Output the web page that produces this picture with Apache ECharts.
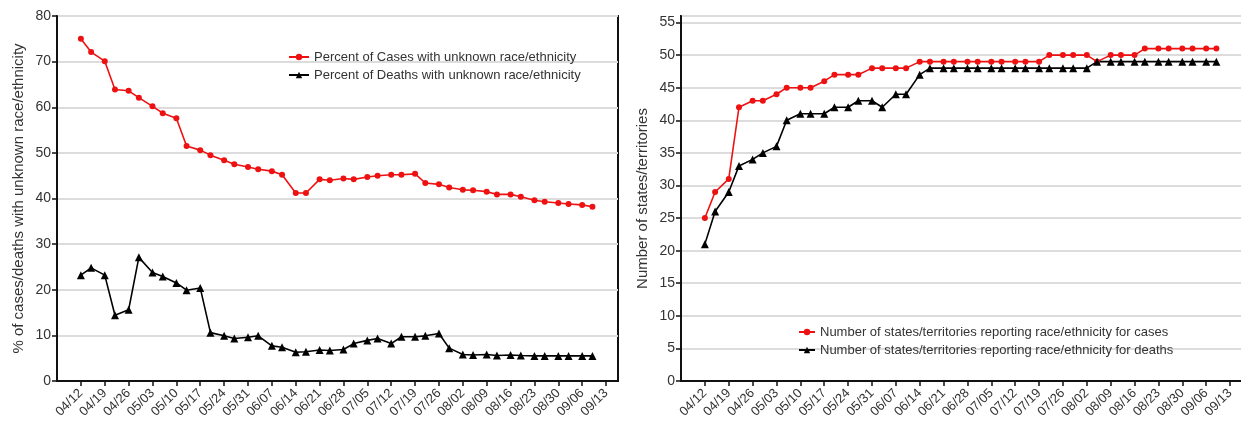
<!DOCTYPE html>
<html>
<head>
<meta charset="utf-8">
<script src="https://cdn.jsdelivr.net/npm/echarts@6/dist/echarts.min.js"></script>
<style>
  html, body {margin: 0; padding: 0; background: #fff;}
  #chart {width: 1241px; height: 421px;}
</style>
</head>
<body>
<div id="chart"></div>
<script>
// report dates (twice a week, Sun + Wed)
const reportDates = [
  '2020-04-12', '2020-04-15', '2020-04-19', '2020-04-22', '2020-04-26', '2020-04-29',
  '2020-05-03', '2020-05-06', '2020-05-10', '2020-05-13', '2020-05-17', '2020-05-20',
  '2020-05-24', '2020-05-27', '2020-05-31', '2020-06-03', '2020-06-07', '2020-06-10',
  '2020-06-14', '2020-06-17', '2020-06-21', '2020-06-24', '2020-06-28', '2020-07-01',
  '2020-07-05', '2020-07-08', '2020-07-12', '2020-07-15', '2020-07-19', '2020-07-22',
  '2020-07-26', '2020-07-29', '2020-08-02', '2020-08-05', '2020-08-09', '2020-08-12',
  '2020-08-16', '2020-08-19', '2020-08-23', '2020-08-26', '2020-08-30', '2020-09-02',
  '2020-09-06', '2020-09-09'
];

const casesUnknownPct = [
  75.0, 72.1, 70.1, 63.9, 63.6, 62.1, 60.2, 58.7, 57.6, 51.5,
  50.6, 49.5, 48.4, 47.5, 46.9, 46.4, 46.0, 45.2, 41.2, 41.2,
  44.2, 44.0, 44.4, 44.2, 44.7, 45.0, 45.2, 45.2, 45.4, 43.4,
  43.1, 42.4, 41.9, 41.8, 41.5, 40.9, 40.9, 40.4, 39.6, 39.3,
  39.0, 38.8, 38.6, 38.2
];
const deathsUnknownPct = [
  23.2, 24.8, 23.2, 14.4, 15.6, 27.1, 23.8, 22.9, 21.5, 19.9,
  20.4, 10.6, 9.9, 9.3, 9.6, 9.9, 7.7, 7.4, 6.3, 6.4,
  6.8, 6.7, 6.9, 8.2, 8.9, 9.3, 8.2, 9.7, 9.7, 9.9,
  10.4, 7.2, 5.8, 5.7, 5.8, 5.6, 5.7, 5.6, 5.5, 5.5,
  5.5, 5.5, 5.5, 5.5
];

const statesCases = [
  25, 29, 31, 42, 43, 43, 44, 45, 45, 45,
  46, 47, 47, 47, 48, 48, 48, 48, 49, 49,
  49, 49, 49, 49, 49, 49, 49, 49, 49, 50,
  50, 50, 50, 49, 50, 50, 50, 51, 51, 51,
  51, 51, 51, 51
];
const statesDeaths = [
  21, 26, 29, 33, 34, 35, 36, 40, 41, 41,
  41, 42, 42, 43, 43, 42, 44, 44, 47, 48,
  48, 48, 48, 48, 48, 48, 48, 48, 48, 48,
  48, 48, 48, 49, 49, 49, 49, 49, 49, 49,
  49, 49, 49, 49
];

const legendLeft = [
  'Percent of Cases with unknown race/ethnicity',
  'Percent of Deaths with unknown race/ethnicity'
];
const legendRight = [
  'Number of states/territories reporting race/ethnicity for cases',
  'Number of states/territories reporting race/ethnicity for deaths'
];

// x axis runs in days from 04/05 so weekly ticks land on Sundays
const baseDay = Date.UTC(2020, 3, 5);
const DAY = 86400000;
const dayOf = s => (Date.parse(s + 'T00:00:00Z') - baseDay) / DAY;
const fmtDay = v => {
  const d = new Date(baseDay + v * DAY);
  const mm = String(d.getUTCMonth() + 1).padStart(2, '0');
  const dd = String(d.getUTCDate()).padStart(2, '0');
  return mm + '/' + dd;
};
const pairs = vals => reportDates.map((s, i) => [dayOf(s), vals[i]]);

const FONT = '"Liberation Sans", Arial, sans-serif';
const textCol = '#333';

const xAxisBase = (gridIndex, max) => ({
  type: 'value',
  gridIndex,
  min: 0,
  max,
  interval: 7,
  axisLine: {show: true, onZero: false, lineStyle: {color: '#111', width: 2}},
  axisTick: {show: true, length: 5, lineStyle: {color: '#111', width: 1.5}},
  splitLine: {show: false},
  axisLabel: {
    rotate: 45,
    showMinLabel: false,
    showMaxLabel: false,
    formatter: fmtDay,
    fontFamily: FONT,
    fontSize: 13,
    color: textCol,
    margin: 10
  }
});

const yAxisBase = (gridIndex, max, interval, name) => ({
  type: 'value',
  gridIndex,
  min: 0,
  max,
  interval,
  name,
  nameLocation: 'middle',
  nameGap: 31,
  nameTextStyle: {fontFamily: FONT, fontSize: 15, color: textCol},
  axisLine: {show: true, lineStyle: {color: '#111', width: 2}},
  axisTick: {show: true, length: 5, lineStyle: {color: '#111', width: 1.5}},
  splitLine: {show: true, lineStyle: {color: '#dcdcdc', width: 2}},
  axisLabel: {
    showMaxLabel: max % interval === 0,
    fontFamily: FONT,
    fontSize: 14,
    color: textCol,
    margin: 6
  }
});

const lineSeries = (name, data, idx, color, symbol, size) => ({
  name,
  type: 'line',
  xAxisIndex: idx,
  yAxisIndex: idx,
  data,
  symbol,
  symbolSize: size,
  showAllSymbol: true,
  animation: false,
  lineStyle: {color, width: 1.6},
  itemStyle: {color}
});

const legendBase = (data, left, top, w) => ({
  data,
  left,
  top,
  orient: 'vertical',
  itemWidth: w,
  itemHeight: 8,
  itemGap: 4,
  selectedMode: false,
  textStyle: {fontFamily: FONT, fontSize: 13, color: textCol, lineHeight: 14}
});

const chart = echarts.init(document.getElementById('chart'), null, {renderer: 'canvas'});
chart.setOption({
  animation: false,
  backgroundColor: '#fff',
  grid: [
    {left: 57, top: 16, width: 561, height: 365, show: true, borderColor: '#111', borderWidth: 2,
      containLabel: false, outerBoundsMode: 'none'},
    {left: 681, top: 16, width: 569.5, height: 365, show: true, borderColor: '#111', borderWidth: 2,
      containLabel: false, outerBoundsMode: 'none'}
  ],
  legend: [
    legendBase(legendLeft, 283, 45, 20),
    legendBase(legendRight, 793, 320, 16)
  ],
  xAxis: [xAxisBase(0, 164.5), xAxisBase(1, 167)],
  yAxis: [
    yAxisBase(0, 80, 10, '% of cases/deaths with unknown race/ethnicity'),
    yAxisBase(1, 56, 5, 'Number of states/territories')
  ],
  series: [
    lineSeries(legendLeft[0], pairs(casesUnknownPct), 0, '#ee1111', 'circle', 6),
    lineSeries(legendLeft[1], pairs(deathsUnknownPct), 0, '#000', 'triangle', 8),
    lineSeries(legendRight[0], pairs(statesCases), 1, '#ee1111', 'circle', 6),
    lineSeries(legendRight[1], pairs(statesDeaths), 1, '#000', 'triangle', 8)
  ]
});
</script>
</body>
</html>
